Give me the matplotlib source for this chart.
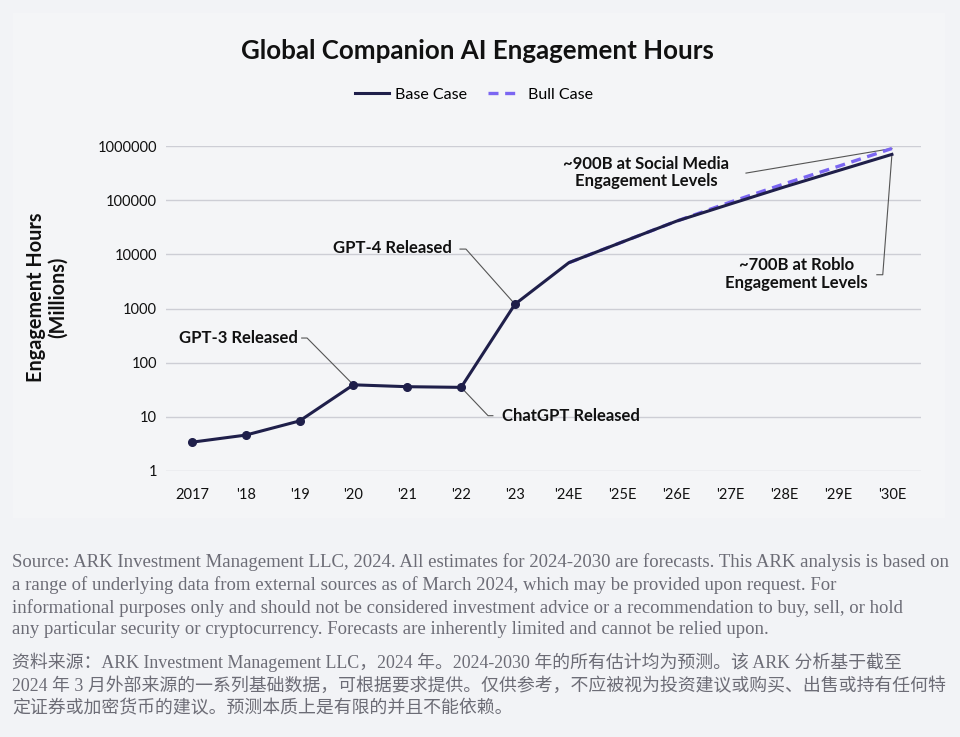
import matplotlib

matplotlib.use("Agg")
import matplotlib.pyplot as plt
from matplotlib.patches import Rectangle

# data
years = ["2017", "'18", "'19", "'20", "'21", "'22", "'23", "'24E", "'25E", "'26E", "'27E", "'28E", "'29E", "'30E"]
base_case = [3.4, 4.6, 8.4, 39, 36, 35, 1200, 7000, 17000, 41000, 85000, 175000, 350000, 700000]
bull_case = [7000, 17000, 41000, 92000, 200000, 420000, 900000]
bull_start = 7  # '24E
n_hist = 7  # 2017-'23 carry markers
y_ticks = [1, 10, 100, 1000, 10000, 100000, 1000000]

BG = "#f2f3f6"
PANEL = "#f4f5f7"
BASE = "#1f1f4a"
BULL = "#7b66f2"
GRID = "#cdced5"
TXT = "#111111"
FOOT = "#6c6c76"

fig = plt.figure(figsize=(9.6, 7.37), dpi=100, facecolor=BG)
fig.patches.append(Rectangle((13 / 960, 1 - 518 / 737), 932 / 960, 505 / 737,
                             transform=fig.transFigure, facecolor=PANEL, edgecolor="none", zorder=-5))

ax = fig.add_axes([166 / 960, 1 - 471 / 737, 755 / 960, 325 / 737])
ax.set_zorder(2)
ax.set_facecolor("none")
ax.set_yscale("log")
ax.set_ylim(1, 1e6)
ax.set_xlim(-0.48, 13.54)
for s in ax.spines.values():
    s.set_visible(False)
ax.set_yticks(y_ticks)
ax.set_yticklabels([str(t) for t in y_ticks])
ax.minorticks_off()
ax.set_xticks(range(len(years)))
ax.set_xticklabels(years)
ax.tick_params(length=0, labelsize=10.5, labelcolor=TXT)
ax.tick_params(axis="y", pad=6.5)
ax.tick_params(axis="x", pad=12)
for lab in ax.get_xticklabels() + ax.get_yticklabels():
    lab.set_family("Lato")
ax.grid(axis="y", color=GRID, linewidth=1)
ax.set_axisbelow(True)

x = list(range(len(years)))
xb = x[bull_start:]
ax.plot(xb, bull_case, color=BULL, lw=2.4, ls=(0, (3, 2)), clip_on=False, zorder=3)
ax.plot(x, base_case, color=BASE, lw=2.2, clip_on=False, zorder=4)
ax.plot(x[:n_hist], base_case[:n_hist], "o", color=BASE, ms=5.5, clip_on=False, zorder=5)
ax.plot([], [], color=BASE, lw=2.2, label="Base Case")
ax.plot([], [], color=BULL, lw=2.4, ls=(0, (3, 2)), label="Bull Case")

# annotations
ann = dict(fontsize=12, fontweight="bold", color=TXT, family="Lato")
lk = dict(color="#555555", lw=0.8)


def leader(pts):
    xs, ys = zip(*pts)
    ax.plot(xs, ys, clip_on=False, zorder=2, **lk)


# GPT-3 -> '20
ax.text(1.97, 285, "GPT-3 Released", ha="right", va="center", **ann)
leader([(2.04, 285), (2.14, 285), (3, base_case[3])])
# GPT-4 -> '23
ax.text(4.83, 13100, "GPT-4 Released", ha="right", va="center", **ann)
leader([(4.98, 12500), (5.09, 12500), (6, base_case[6])])
# ChatGPT -> '22
ax.text(5.76, 10.5, "ChatGPT Released", ha="left", va="center", **ann)
leader([(5, base_case[5]), (5.5, 10.5), (5.59, 10.5)])
# social media -> bull '30E
ax.text(8.43, 324000, "~900B at Social Media\nEngagement Levels", ha="center", va="center",
        linespacing=1.15, **ann)
leader([(10.29, 316000), (13, bull_case[-1])])
# roblo -> base '30E
ax.text(11.23, 4250, "~700B at Roblo\nEngagement Levels", ha="center", va="center",
        linespacing=1.15, **ann)
leader([(12.72, 4200), (12.83, 4200), (13, base_case[-1])])

ax.set_ylabel("Engagement Hours\n(Millions)", fontsize=14.3, fontweight="bold", family="Lato",
              color=TXT, linespacing=1.12)
ax.yaxis.set_label_coords(-0.13, 0.535)

fig.text(477 / 960, 1 - 51 / 737, "Global Companion AI Engagement Hours", ha="center", va="center",
         fontsize=18.6, fontweight="bold", family="Lato", color=TXT)
fig.legend(loc="center", bbox_to_anchor=(474 / 960, 1 - 95 / 737), ncol=2, frameon=False,
           prop={"family": "Lato", "size": 11.5}, handlelength=2.1, handletextpad=0.4,
           columnspacing=1.3)

foot_en = ("Source: ARK Investment Management LLC, 2024. All estimates for 2024-2030 are forecasts. This ARK analysis is based on\n"
           "a range of underlying data from external sources as of March 2024, which may be provided upon request. For\n"
           "informational purposes only and should not be considered investment advice or a recommendation to buy, sell, or hold\n"
           "any particular security or cryptocurrency. Forecasts are inherently limited and cannot be relied upon.")
foot_cn = ("资料来源：ARK Investment Management LLC，2024 年。2024-2030 年的所有估计均为预测。该 ARK 分析基于截至\n"
           "2024 年 3 月外部来源的一系列基础数据，可根据要求提供。仅供参考，不应被视为投资建议或购买、出售或持有任何特\n"
           "定证券或加密货币的建议。预测本质上是有限的并且不能依赖。")
fig.text(12 / 960, 1 - 553 / 737, foot_en, ha="left", va="top", fontsize=13.5, color=FOOT,
         family=["Liberation Serif", "Noto Sans CJK SC"], linespacing=1.36)
fig.text(12 / 960, 1 - 653 / 737, foot_cn, ha="left", va="top", fontsize=12.9, color=FOOT,
         family=["Liberation Serif", "Noto Sans CJK SC"], linespacing=1.37)

fig.savefig("out.png", dpi=100, facecolor=BG)
